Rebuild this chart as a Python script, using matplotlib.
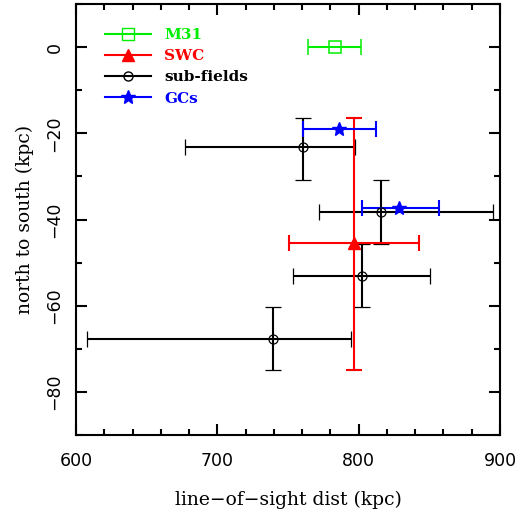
import matplotlib
matplotlib.use("Agg")
import matplotlib.pyplot as plt
from matplotlib.lines import Line2D
from matplotlib.ticker import MultipleLocator

# M31
m31_x = [783.0]; m31_y = [0.0]
m31_xlo = [764.0]; m31_xhi = [802.0]

# SWC
swc_x = [796.5]; swc_y = [-45.5]
swc_xlo = [750.7]; swc_xhi = [842.5]
swc_ylo = [-75.0]; swc_yhi = [-16.4]

# sub-fields
sub_x = [760.8, 815.8, 802.6, 739.6]
sub_y = [-23.2, -38.3, -53.0, -67.7]
sub_xlo = [677.3, 772.2, 753.8, 608.0]
sub_xhi = [797.4, 895.3, 850.5, 794.6]
sub_ylo = [-30.9, -45.6, -60.3, -75.0]
sub_yhi = [-16.4, -30.9, -45.6, -60.3]

# GCs
gc_x = [786.3, 828.8]
gc_y = [-18.9, -37.3]
gc_xlo = [760.4, 802.6]
gc_xhi = [812.5, 856.9]

labels = ["M31", "SWC", "sub-fields", "GCs"]
colors = ["#00ee00", "#ff0000", "#000000", "#0000ff"]

def lohi(v, lo, hi):
    return [[a - b for a, b in zip(v, lo)], [b - a for a, b in zip(v, hi)]]

fig = plt.figure(figsize=(5.30, 5.19), dpi=100)
ax = fig.add_axes([0.1434, 0.1618, 0.80, 0.8305])

lw = 1.5
cs = 5.5
ax.errorbar(m31_x, m31_y, xerr=lohi(m31_x, m31_xlo, m31_xhi), fmt='s', mfc='none',
            mec=colors[0], ecolor=colors[0], ms=8, mew=1.1, elinewidth=lw, capsize=cs, capthick=lw)
ax.errorbar(sub_x, sub_y, xerr=lohi(sub_x, sub_xlo, sub_xhi), yerr=lohi(sub_y, sub_ylo, sub_yhi),
            fmt='o', mfc='none', mec=colors[2], ecolor=colors[2], ms=6.5, mew=0.9,
            elinewidth=lw, capsize=cs, capthick=lw)
ax.errorbar(swc_x, swc_y, xerr=lohi(swc_x, swc_xlo, swc_xhi), yerr=lohi(swc_y, swc_ylo, swc_yhi),
            fmt='^', color=colors[1], ms=8, elinewidth=lw, capsize=cs, capthick=lw)
ax.errorbar(gc_x, gc_y, xerr=lohi(gc_x, gc_xlo, gc_xhi), fmt='*', color=colors[3], ms=10,
            elinewidth=lw, capsize=cs, capthick=lw)

ax.set_xlim(600, 900)
ax.set_ylim(-90, 10)
ax.xaxis.set_major_locator(MultipleLocator(100))
ax.xaxis.set_minor_locator(MultipleLocator(20))
ax.yaxis.set_major_locator(MultipleLocator(20))
ax.yaxis.set_minor_locator(MultipleLocator(10))
ax.tick_params(which='both', direction='in', top=True, right=True, width=1.5,
               labelsize=12.5)
ax.tick_params(axis='x', pad=12)
ax.tick_params(axis='y', pad=9)
ax.tick_params(which='major', length=8)
ax.tick_params(which='minor', length=4.5)
ax.tick_params(axis='y', labelrotation=90)
for lab in ax.get_yticklabels():
    lab.set_va('center')
for s in ax.spines.values():
    s.set_linewidth(1.5)

ax.set_xlabel("line\u2212of\u2212sight dist (kpc)", family="DejaVu Serif", fontsize=13.5, labelpad=15)
ax.set_ylabel("north to south (kpc)", family="DejaVu Serif", fontsize=13.5, labelpad=8)

handles = [
    Line2D([], [], color=colors[0], marker='s', mfc='none', ms=8, lw=lw),
    Line2D([], [], color=colors[1], marker='^', ms=8, lw=lw),
    Line2D([], [], color=colors[2], marker='o', mfc='none', ms=6.5, lw=lw),
    Line2D([], [], color=colors[3], marker='*', ms=10, lw=lw),
]
leg = ax.legend(handles, labels, loc='upper left', frameon=False,
                bbox_to_anchor=(0.068, 0.944), borderaxespad=0, borderpad=0,
                prop={'family': 'DejaVu Serif', 'weight': 'bold', 'size': 11},
                handlelength=3.0, labelspacing=0.47, handletextpad=0.9)
for t, c in zip(leg.get_texts(), colors):
    t.set_color(c)

fig.savefig("out.png", dpi=100)
